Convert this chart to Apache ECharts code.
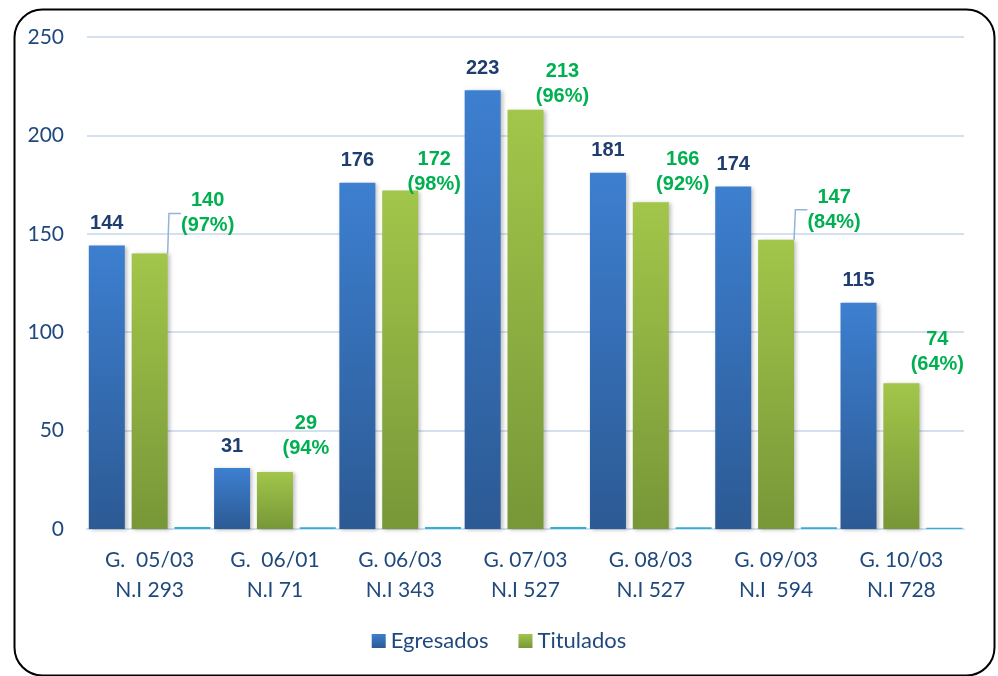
<!DOCTYPE html>
<html>
<head>
<meta charset="utf-8">
<script src="https://cdn.jsdelivr.net/npm/echarts@6/dist/echarts.min.js"></script>
<style>
  html, body { margin:0; padding:0; background:#fff; }
  #chart { width:998px; height:676px; }
</style>
</head>
<body>
<div id="chart"></div>
<script>
const categories = ['G.  05/03\nN.I 293', 'G.  06/01\nN.I 71', 'G. 06/03\nN.I 343', 'G. 07/03\nN.I 527', 'G. 08/03\nN.I 527', 'G. 09/03\nN.I  594', 'G. 10/03\nN.I 728'];
const egresados = [144, 31, 176, 223, 181, 174, 115];
const titulados = [140, 29, 172, 213, 166, 147, 74];
const porcentaje = [0.97, 0.94, 0.98, 0.96, 0.92, 0.84, 0.64];
const pctLabels = ['(97%)', '(94%', '(98%)', '(96%)', '(92%)', '(84%)', '(64%)'];
const yTicks = [0, 50, 100, 150, 200, 250];

// label shifts for the Titulados labels (px from default 'top' spot)
const titShift = [[58, -10], [31, -6], [34, 11], [37, 4], [32, 0], [58, 0], [36, -1]];
const withLeader = [0, 5];

const chart = echarts.init(document.getElementById('chart'));

const axisFont = 'Lato, "Open Sans", sans-serif';
const labelFont = '"Liberation Sans", Arial, sans-serif';

chart.setOption({
  backgroundColor: '#fff',
  animation: false,
  graphic: [{
    type: 'rect', left: 12, top: 7, silent: true,
    shape: { width: 980, height: 666, r: 28 },
    style: { fill: 'none', stroke: '#000', lineWidth: 2 }
  }],
  grid: { left: 87, right: 34, top: 37, bottom: 147 },
  legend: {
    data: ['Egresados', 'Titulados'],
    bottom: 19, left: 'center',
    itemWidth: 14, itemHeight: 14, itemGap: 30, itemTextGap: 6,
    icon: 'rect',
    textStyle: { fontFamily: axisFont, fontSize: 22, color: '#1f497d' }
  },
  xAxis: {
    type: 'category', data: categories,
    axisLine: { lineStyle: { color: '#d5e0ef', width: 2 } },
    axisTick: { show: false },
    axisLabel: { fontFamily: axisFont, fontSize: 21, color: '#1f497d', lineHeight: 30, margin: 16 }
  },
  yAxis: {
    type: 'value', min: yTicks[0], max: yTicks[yTicks.length - 1], interval: 50,
    axisLine: { show: false }, axisTick: { show: false },
    axisLabel: { fontFamily: axisFont, fontSize: 21, color: '#1f497d', margin: 23 },
    splitLine: { lineStyle: { color: '#d5e0ef', width: 2 } }
  },
  series: [{
    name: 'Egresados', type: 'bar', data: egresados,
    barWidth: 36, barGap: '19%',
    itemStyle: {
      color: new echarts.graphic.LinearGradient(0, 0, 0, 1, [{ offset: 0, color: '#3d7fd0' }, { offset: 1, color: '#2c5a94' }]),
      shadowBlur: 4, shadowColor: 'rgba(0,0,0,0.25)', shadowOffsetX: 2, shadowOffsetY: 1
    },
    label: { show: true, position: 'top', distance: 12, fontFamily: labelFont, fontWeight: 'bold', fontSize: 20, color: '#1f3d6e' }
  }, {
    name: 'Titulados', type: 'bar',
    data: titulados.map((v, i) => ({
      value: v,
      labelLine: { show: withLeader.includes(i) }
    })),
    barWidth: 36, barGap: '19%',
    itemStyle: {
      color: new echarts.graphic.LinearGradient(0, 0, 0, 1, [{ offset: 0, color: '#a2c64a' }, { offset: 1, color: '#779738' }]),
      shadowBlur: 4, shadowColor: 'rgba(0,0,0,0.25)', shadowOffsetX: 2, shadowOffsetY: 1
    },
    label: {
      show: true, position: 'top', distance: 5,
      fontFamily: labelFont, fontWeight: 'bold', fontSize: 20, lineHeight: 25, color: '#00b050',
      formatter: p => p.value + '\n' + pctLabels[p.dataIndex]
    },
    labelLine: { length2: 12, lineStyle: { color: '#95b3d7', width: 1.5 } },
    labelLayout: p => ({ dx: titShift[p.dataIndex][0], dy: titShift[p.dataIndex][1] })
  }, {
    name: 'Porcentaje', type: 'bar', data: porcentaje,
    barWidth: 36, barGap: '19%',
    itemStyle: { color: '#2eb0d8' }
  }]
});
</script>
</body>
</html>
